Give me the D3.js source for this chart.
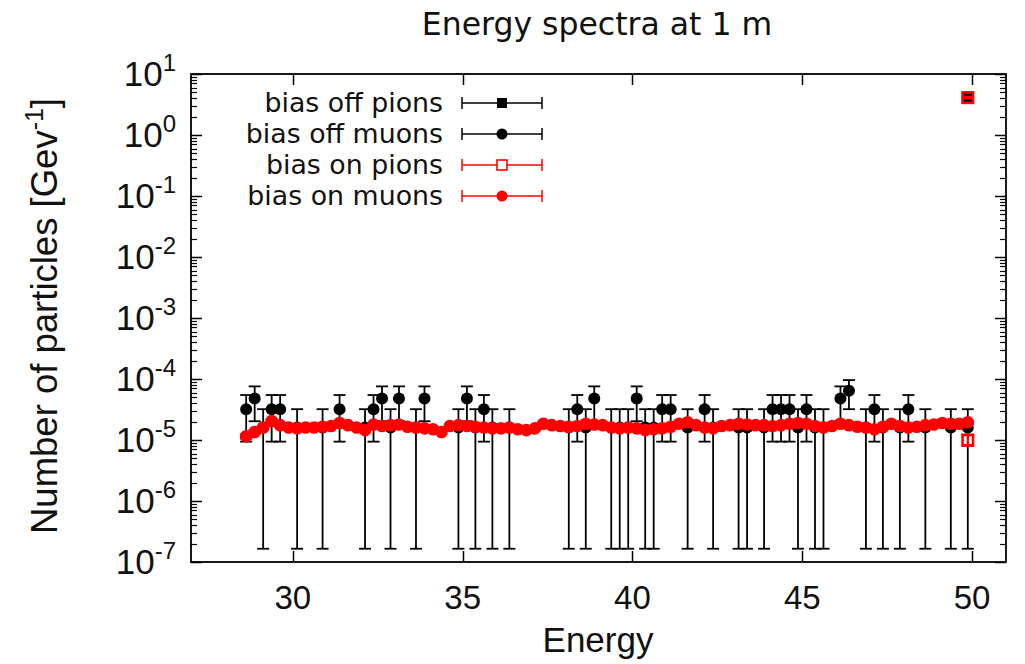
<!DOCTYPE html>
<html><head><meta charset="utf-8">
<script src="https://cdn.jsdelivr.net/npm/d3@7"></script>
<style>body{margin:0;background:#fff}svg{display:block}</style>
</head><body><svg id="c" width="1025" height="664"></svg>
<script>
// ---- data ----
const title = "Energy spectra at 1 m";
const xLabel = "Energy";
const xTicks = [30, 35, 40, 45, 50];
const yExponents = [1, 0, -1, -2, -3, -4, -5, -6, -7];
const legendLabels = ["bias off pions", "bias off muons", "bias on pions", "bias on muons"];

// bias off pions
const offPionsE = [49.875];
const offPionsV = [4.1];
const offPionsErr = [0.15];

// bias off muons (values & symmetric errors)
const offMuonsE = [28.625,28.875,29.125,29.375,29.625,30.125,30.875,31.375,32.125,32.375,32.625,32.875,33.125,33.625,33.875,34.875,35.125,35.375,35.625,35.875,36.375,38.125,38.375,38.625,38.875,39.375,39.625,39.875,40.125,40.375,40.625,40.875,41.125,41.625,42.125,42.375,43.125,43.375,43.875,44.125,44.375,44.625,44.875,45.125,45.375,45.625,46.125,46.375,46.875,47.125,47.375,47.875,48.125,48.625,49.375,49.875];
const offMuonsV = [3.2e-5,4.8e-5,1.6e-5,3.2e-5,3.2e-5,1.6e-5,1.6e-5,3.2e-5,1.6e-5,3.2e-5,4.8e-5,1.6e-5,4.8e-5,1.6e-5,4.8e-5,1.6e-5,4.8e-5,1.6e-5,3.2e-5,1.6e-5,1.6e-5,1.6e-5,3.2e-5,1.6e-5,4.8e-5,1.6e-5,1.6e-5,1.6e-5,4.8e-5,1.6e-5,1.6e-5,3.2e-5,3.2e-5,1.6e-5,3.2e-5,1.6e-5,1.6e-5,1.6e-5,1.6e-5,3.2e-5,3.2e-5,3.2e-5,1.6e-5,3.2e-5,1.6e-5,1.6e-5,4.8e-5,6.4e-5,1.6e-5,3.2e-5,1.6e-5,1.6e-5,3.2e-5,1.6e-5,1.6e-5,1.6e-5];
const offMuonsErr = [2.26e-5,2.77e-5,1.6e-5,2.26e-5,2.26e-5,1.6e-5,1.6e-5,2.26e-5,1.6e-5,2.26e-5,2.77e-5,1.6e-5,2.77e-5,1.6e-5,2.77e-5,1.6e-5,2.77e-5,1.6e-5,2.26e-5,1.6e-5,1.6e-5,1.6e-5,2.26e-5,1.6e-5,2.77e-5,1.6e-5,1.6e-5,1.6e-5,2.77e-5,1.6e-5,1.6e-5,2.26e-5,2.26e-5,1.6e-5,2.26e-5,1.6e-5,1.6e-5,1.6e-5,1.6e-5,2.26e-5,2.26e-5,2.26e-5,1.6e-5,2.26e-5,1.6e-5,1.6e-5,2.77e-5,3.2e-5,1.6e-5,2.26e-5,1.6e-5,1.6e-5,2.26e-5,1.6e-5,1.6e-5,1.6e-5];
const logFloor = 1.65e-7; // where bars reaching zero end on the log axis

// bias on pions
const onPionsE = [49.875, 49.875];
const onPionsV = [4.1, 1.0e-5];
const onPionsErr = [0.12, 0.2e-5];

// bias on muons
const onMuonsE = [28.625,28.875,29.125,29.375,29.625,29.875,30.125,30.375,30.625,30.875,31.125,31.375,31.625,31.875,32.125,32.375,32.625,32.875,33.125,33.375,33.625,33.875,34.125,34.375,34.625,34.875,35.125,35.375,35.625,35.875,36.125,36.375,36.625,36.875,37.125,37.375,37.625,37.875,38.125,38.375,38.625,38.875,39.125,39.375,39.625,39.875,40.125,40.375,40.625,40.875,41.125,41.375,41.625,41.875,42.125,42.375,42.625,42.875,43.125,43.375,43.625,43.875,44.125,44.375,44.625,44.875,45.125,45.375,45.625,45.875,46.125,46.375,46.625,46.875,47.125,47.375,47.625,47.875,48.125,48.375,48.625,48.875,49.125,49.375,49.625,49.875];
const onMuonsV = [1.15e-5,1.35e-5,1.6e-5,2.05e-5,1.75e-5,1.6e-5,1.55e-5,1.6e-5,1.6e-5,1.65e-5,1.7e-5,1.9e-5,1.75e-5,1.6e-5,1.45e-5,1.8e-5,1.7e-5,1.75e-5,1.8e-5,1.65e-5,1.6e-5,1.55e-5,1.5e-5,1.35e-5,1.7e-5,1.75e-5,1.7e-5,1.65e-5,1.6e-5,1.55e-5,1.55e-5,1.6e-5,1.5e-5,1.45e-5,1.55e-5,1.85e-5,1.75e-5,1.7e-5,1.65e-5,1.7e-5,1.85e-5,1.8e-5,1.75e-5,1.6e-5,1.55e-5,1.6e-5,1.55e-5,1.45e-5,1.5e-5,1.55e-5,1.65e-5,1.85e-5,1.95e-5,1.75e-5,1.6e-5,1.55e-5,1.7e-5,1.75e-5,1.85e-5,1.8e-5,1.75e-5,1.75e-5,1.7e-5,1.75e-5,1.85e-5,1.9e-5,1.85e-5,1.7e-5,1.6e-5,1.7e-5,1.85e-5,1.75e-5,1.65e-5,1.6e-5,1.5e-5,1.65e-5,1.85e-5,1.7e-5,1.6e-5,1.65e-5,1.75e-5,1.8e-5,1.9e-5,1.85e-5,1.85e-5,1.95e-5];
const onMuonsErr = [0.1e-5,0.1e-5,0.1e-5,0.12e-5,0.1e-5,0.1e-5,0.1e-5,0.1e-5,0.1e-5,0.1e-5,0.1e-5,0.11e-5,0.1e-5,0.1e-5,0.1e-5,0.1e-5,0.1e-5,0.1e-5,0.1e-5,0.1e-5,0.1e-5,0.1e-5,0.1e-5,0.1e-5,0.1e-5,0.1e-5,0.1e-5,0.1e-5,0.1e-5,0.1e-5,0.1e-5,0.1e-5,0.1e-5,0.1e-5,0.1e-5,0.11e-5,0.1e-5,0.1e-5,0.1e-5,0.1e-5,0.11e-5,0.1e-5,0.1e-5,0.1e-5,0.1e-5,0.1e-5,0.1e-5,0.1e-5,0.1e-5,0.1e-5,0.1e-5,0.11e-5,0.11e-5,0.1e-5,0.1e-5,0.1e-5,0.1e-5,0.1e-5,0.11e-5,0.1e-5,0.1e-5,0.1e-5,0.1e-5,0.1e-5,0.11e-5,0.11e-5,0.11e-5,0.1e-5,0.1e-5,0.1e-5,0.11e-5,0.1e-5,0.1e-5,0.1e-5,0.1e-5,0.1e-5,0.11e-5,0.1e-5,0.1e-5,0.1e-5,0.1e-5,0.1e-5,0.11e-5,0.11e-5,0.1e-5,0.1e-5];

// ---- layout ----
const svg = d3.select("#c");
const L = 191, R = 1006, T = 74, B = 562;
const x = d3.scaleLinear().domain([27, 51]).range([L, R]);
const y = d3.scaleLog().domain([1e-7, 10]).range([B, T]);
const RED = "#ff0000";
const tickFont = "'Liberation Sans', Arial, sans-serif";
const legFont = "'DejaVu Sans', sans-serif";

// frame
svg.append("rect").attr("x", L).attr("y", T).attr("width", R - L).attr("height", B - T)
  .attr("fill", "none").attr("stroke", "#000").attr("stroke-width", 1.8);

// x ticks (bottom & top)
const gx = svg.append("g");
xTicks.forEach(v => {
  const px = Math.round(x(v)) + 0.5;
  gx.append("line").attr("x1", px).attr("x2", px).attr("y1", B).attr("y2", B - 11).attr("stroke", "#000").attr("stroke-width", 1.5);
  gx.append("line").attr("x1", px).attr("x2", px).attr("y1", T).attr("y2", T + 11).attr("stroke", "#000").attr("stroke-width", 1.5);
  gx.append("text").attr("x", x(v)).attr("y", 609).attr("text-anchor", "middle")
    .attr("font-family", tickFont).attr("font-size", 33).attr("fill", "#111").text(v);
});

// y ticks (major + minor, left & right)
const gy = svg.append("g");
yExponents.forEach(e => {
  const py = Math.round(y(Math.pow(10, e))) + 0.5;
  [[L, L + 11], [R, R - 11]].forEach(([a, b]) =>
    gy.append("line").attr("x1", a).attr("x2", b).attr("y1", py).attr("y2", py).attr("stroke", "#000").attr("stroke-width", 1.5));
  if (e > -7) {
    for (let m = 2; m <= 9; m++) {
      const my = Math.round(y(m * Math.pow(10, e - 1))) + 0.5;
      [[L, L + 6], [R, R - 6]].forEach(([a, b]) =>
        gy.append("line").attr("x1", a).attr("x2", b).attr("y1", my).attr("y2", my).attr("stroke", "#000").attr("stroke-width", 1.2));
    }
  }
  const t = gy.append("text").attr("x", 176).attr("y", y(Math.pow(10, e)) + 12).attr("text-anchor", "end")
    .attr("font-family", tickFont).attr("font-size", 35).attr("fill", "#111");
  t.append("tspan").text("10");
  t.append("tspan").attr("font-size", 24).attr("dy", -15).text(e);
});

// axis titles
svg.append("text").attr("x", 598).attr("y", 652).attr("text-anchor", "middle")
  .attr("font-family", tickFont).attr("font-size", 35).attr("fill", "#111").text(xLabel);
const yl = svg.append("text").attr("transform", "translate(57,316) rotate(-90)").attr("text-anchor", "middle")
  .attr("font-family", tickFont).attr("font-size", 36.5).attr("fill", "#111");
yl.append("tspan").text("Number of particles [Gev");
yl.append("tspan").attr("font-size", 25).attr("dy", -14).text("-1");
yl.append("tspan").attr("dy", 14).text("]");
svg.append("text").attr("x", 597).attr("y", 35).attr("text-anchor", "middle")
  .attr("font-family", legFont).attr("font-size", 31.5).attr("fill", "#111").text(title);

// ---- series drawing ----
const plot = svg.append("g");
function errBars(E, V, Err, color, sw) {
  const g = plot.append("g").attr("stroke", color).attr("stroke-width", sw);
  E.forEach((e, i) => {
    const lo = Math.max(V[i] - Err[i], logFloor), hi = V[i] + Err[i];
    const px = x(e), y0 = y(lo), y1 = y(hi);
    g.append("line").attr("x1", px).attr("x2", px).attr("y1", y0).attr("y2", y1);
    g.append("line").attr("x1", px - 6).attr("x2", px + 6).attr("y1", y0).attr("y2", y0);
    g.append("line").attr("x1", px - 6).attr("x2", px + 6).attr("y1", y1).attr("y2", y1);
  });
}
function squares(E, V, color, hollow) {
  const s = hollow ? 10.5 : 10;
  plot.append("g").selectAll("rect").data(E).join("rect")
    .attr("x", (d) => x(d) - s / 2).attr("y", (d, i) => y(V[i]) - s / 2).attr("width", s).attr("height", s)
    .attr("fill", hollow ? "none" : color).attr("stroke", color).attr("stroke-width", hollow ? 2.6 : 0);
}
function circles(E, V, color, r) {
  plot.append("g").selectAll("circle").data(E).join("circle")
    .attr("cx", d => x(d)).attr("cy", (d, i) => y(V[i])).attr("r", r).attr("fill", color);
}
errBars(offPionsE, offPionsV, offPionsErr, "#000", 1.8); squares(offPionsE, offPionsV, "#000", false);
errBars(offMuonsE, offMuonsV, offMuonsErr, "#000", 1.8); circles(offMuonsE, offMuonsV, "#000", 6);
errBars(onPionsE, onPionsV, onPionsErr, RED, 2.2); squares(onPionsE, onPionsV, RED, true);
errBars(onMuonsE, onMuonsV, onMuonsErr, RED, 2); circles(onMuonsE, onMuonsV, RED, 6.3);

// ---- legend ----
const rowsY = [103, 134, 165, 196];
const legColors = ["#000", "#000", RED, RED];
const legMarks = ["sq", "ci", "hsq", "ci"];
const lg = svg.append("g");
legendLabels.forEach((lab, i) => {
  const cy = rowsY[i];
  lg.append("text").attr("x", 443).attr("y", cy + 9).attr("text-anchor", "end")
    .attr("font-family", legFont).attr("font-size", 26.8).attr("fill", "#111").text(lab);
  const g = lg.append("g").attr("stroke", legColors[i]).attr("stroke-width", 1.5);
  g.append("line").attr("x1", 462).attr("x2", 542).attr("y1", cy).attr("y2", cy);
  g.append("line").attr("x1", 462).attr("x2", 462).attr("y1", cy - 6).attr("y2", cy + 6);
  g.append("line").attr("x1", 542).attr("x2", 542).attr("y1", cy - 6).attr("y2", cy + 6);
  if (legMarks[i] === "sq") lg.append("rect").attr("x", 497).attr("y", cy - 5).attr("width", 10).attr("height", 10).attr("fill", legColors[i]);
  else if (legMarks[i] === "hsq") lg.append("rect").attr("x", 497).attr("y", cy - 5).attr("width", 10).attr("height", 10).attr("fill", "#fff").attr("stroke", legColors[i]).attr("stroke-width", 1.6);
  else lg.append("circle").attr("cx", 502).attr("cy", cy).attr("r", 5.5).attr("fill", legColors[i]);
});
</script></body></html>
